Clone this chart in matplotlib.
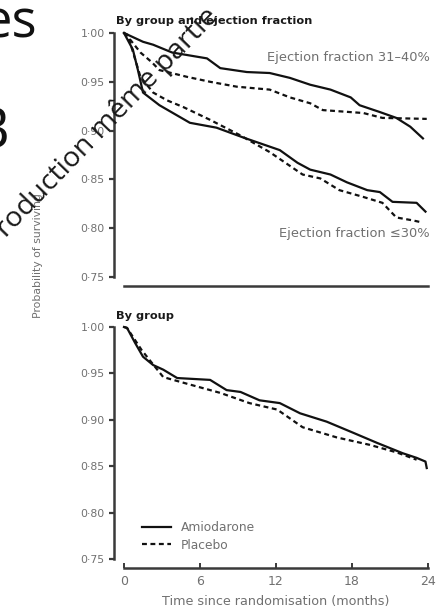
import matplotlib
matplotlib.use("Agg")
import matplotlib.pyplot as plt
from matplotlib.lines import Line2D

# Kaplan-Meier survival, amiodarone vs placebo (months since randomisation)
ef31_amio_t = [0, 1.5, 2.3, 3.8, 6.55, 7.6, 9.7, 11.5, 13.1, 14.7, 16.3, 17.9, 18.6, 20.2, 21.5, 22.6, 23.1, 23.6]
ef31_amio_s = [1.000, 0.991, 0.988, 0.980, 0.974, 0.964, 0.960, 0.959, 0.954, 0.947, 0.942, 0.934, 0.926, 0.919, 0.913, 0.904, 0.898, 0.892]

ef31_plac_t = [0, 0.5, 1.3, 2.2, 2.8, 5.0, 6.8, 8.9, 11.5, 13.1, 14.7, 15.7, 18.9, 20.4, 23.9]
ef31_plac_s = [1.000, 0.993, 0.980, 0.970, 0.962, 0.955, 0.950, 0.945, 0.942, 0.934, 0.928, 0.921, 0.918, 0.913, 0.912]

ef30_amio_t = [0, 0.7, 1.1, 1.5, 2.8, 5.2, 7.3, 9.4, 12.3, 13.7, 14.7, 16.3, 17.6, 19.2, 20.2, 21.2, 23.1, 23.8]
ef30_amio_s = [1.000, 0.983, 0.962, 0.939, 0.926, 0.908, 0.903, 0.893, 0.880, 0.867, 0.860, 0.855, 0.847, 0.839, 0.837, 0.827, 0.826, 0.817]

ef30_plac_t = [0, 0.3, 1.3, 2.3, 3.4, 4.7, 6.8, 9.2, 11.5, 14.1, 15.5, 17.0, 18.9, 20.4, 21.5, 22.8, 23.5]
ef30_plac_s = [1.000, 0.998, 0.955, 0.939, 0.931, 0.924, 0.911, 0.895, 0.878, 0.855, 0.851, 0.839, 0.832, 0.826, 0.811, 0.808, 0.806]

all_amio_t = [0, 0.24, 0.87, 1.5, 2.3, 3.1, 4.2, 6.8, 8.1, 9.2, 10.7, 12.3, 13.9, 16.0, 18.1, 20.0, 22.0, 23.1, 23.8, 23.9]
all_amio_s = [1.000, 0.999, 0.983, 0.968, 0.959, 0.954, 0.945, 0.943, 0.932, 0.930, 0.921, 0.918, 0.907, 0.898, 0.886, 0.875, 0.864, 0.859, 0.855, 0.848]

all_plac_t = [0, 0.24, 1.4, 3.1, 5.2, 7.6, 9.9, 12.1, 14.1, 16.8, 19.4, 21.5, 23.1]
all_plac_s = [1.000, 0.999, 0.975, 0.946, 0.938, 0.929, 0.918, 0.911, 0.892, 0.881, 0.873, 0.865, 0.857]

y_ticks = [0.75, 0.80, 0.85, 0.90, 0.95, 1.00]
y_tick_labels = ["0·75", "0·80", "0·85", "0·90", "0·95", "1·00"]
x_ticks = [0, 6, 12, 18, 24]
x_tick_labels = ["0", "6", "12", "18", "24"]

W, H = 442, 609
fig = plt.figure(figsize=(W / 100, H / 100), dpi=100)
fig.patch.set_facecolor("white")


def px_box(left, top, right, bottom):
    return [left / W, 1 - bottom / H, (right - left) / W, (bottom - top) / H]


def fx(px):
    return px / W


def fy(py):
    return 1 - py / H


INK = "#111111"
GREY = "#707070"
SPINE = "#3a3a3a"
DASH = (0, (2.2, 1.6))

# Slide remnants behind the figure
fig.text(fx(37), fy(38), "es", fontsize=38, family="Open Sans", color="#111111",
         ha="right", va="baseline")
fig.text(fx(9), fy(148), "B", fontsize=40, family="Open Sans", color="#111111",
         ha="right", va="baseline")
fig.text(fx(6), fy(238), "roduction même partie", fontsize=20.5,
         family="Open Sans", color="#1a1a1a", rotation=46, ha="left", va="baseline",
         rotation_mode="anchor", zorder=10)


def style_axes(ax, show_x):
    ax.set_xlim(0, 24)
    ax.set_ylim(0.75, 1.0)
    ax.patch.set_alpha(0)
    for s in ("top", "right"):
        ax.spines[s].set_visible(False)
    ax.spines["left"].set_position(("outward", 7.2))
    ax.spines["bottom"].set_position(("outward", 6.5))
    ax.spines["left"].set_bounds(0.75, 1.0)
    ax.spines["bottom"].set_bounds(0, 24)
    for s in ("left", "bottom"):
        ax.spines[s].set_linewidth(1.8)
        ax.spines[s].set_color(SPINE)
    ax.set_yticks(y_ticks)
    ax.set_yticklabels(y_tick_labels)
    ax.tick_params(axis="y", direction="out", length=3.6, width=1.6, color=SPINE,
                   labelsize=7.8, labelcolor=GREY, pad=3)
    if show_x:
        ax.set_xticks(x_ticks)
        ax.set_xticklabels(x_tick_labels)
        ax.tick_params(axis="x", direction="in", length=3.5, width=1.4, color=SPINE,
                       labelsize=9, labelcolor=GREY, pad=5)
    else:
        ax.set_xticks([])


ax1 = fig.add_axes(px_box(124, 33, 428, 277))
style_axes(ax1, show_x=False)
ax1.plot(ef31_amio_t, ef31_amio_s, color=INK, lw=1.6, clip_on=False)
ax1.plot(ef31_plac_t, ef31_plac_s, color=INK, lw=1.6, ls=DASH, clip_on=False)
ax1.plot(ef30_amio_t, ef30_amio_s, color=INK, lw=1.6, clip_on=False)
ax1.plot(ef30_plac_t, ef30_plac_s, color=INK, lw=1.6, ls=DASH, clip_on=False)
ax1.text(-0.025, 1.03, "By group and ejection fraction", transform=ax1.transAxes,
         fontsize=8.2, fontweight="bold", color="#1a1a1a", ha="left", va="bottom")
ax1.text(24.15, 0.9745, "Ejection fraction 31–40%", fontsize=9.4, color=GREY,
         ha="right", va="center")
ax1.text(24.15, 0.7945, "Ejection fraction ≤30%", fontsize=9.4, color=GREY,
         ha="right", va="center")

ax2 = fig.add_axes(px_box(124, 327, 428, 559))
style_axes(ax2, show_x=True)
ax2.plot(all_amio_t, all_amio_s, color=INK, lw=1.6, clip_on=False)
ax2.plot(all_plac_t, all_plac_s, color=INK, lw=1.6, ls=DASH, clip_on=False)
ax2.text(-0.025, 1.025, "By group", transform=ax2.transAxes,
         fontsize=8.2, fontweight="bold", color="#1a1a1a", ha="left", va="bottom")
ax2.set_xlabel("Time since randomisation (months)", fontsize=9.2, color=GREY, labelpad=5)

handles = [Line2D([], [], color=INK, lw=1.6),
           Line2D([], [], color=INK, lw=1.6, ls=DASH)]
ax2.legend(handles, ["Amiodarone", "Placebo"], loc="lower left",
           bbox_to_anchor=(0.035, 0.0), frameon=False, fontsize=8.8,
           handlelength=2.4, handletextpad=0.8, labelspacing=0.4,
           labelcolor=GREY, borderaxespad=0.2)

fig.text(fx(38), fy(256), "Probability of surviving", fontsize=7.8, color=GREY,
         rotation=90, ha="center", va="center")

fig.savefig("out.png", dpi=100)
